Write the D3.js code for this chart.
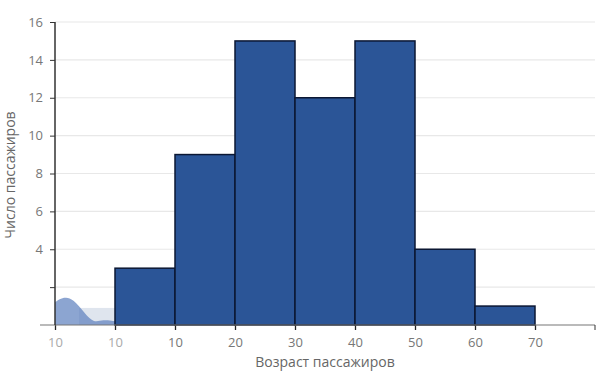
<!DOCTYPE html>
<html>
<head>
<meta charset="utf-8">
<script src="https://cdn.jsdelivr.net/npm/d3@7"></script>
<style>
  body { margin: 0; background: #fff; }
  text { font-family: "Open Sans", "Liberation Sans", sans-serif; }
</style>
</head>
<body>
<svg id="hist" width="600" height="375"></svg>
<script>
// bin edges and counts
var binStarts = [0, 10, 20, 30, 40, 50, 60];
var binCounts = [3, 9, 15, 12, 15, 4, 1];
var xTickValues = [-10, 0, 10, 20, 30, 40, 50, 60, 70];
var xTickLabels = ["10", "10", "10", "20", "30", "40", "50", "60", "70"];
var yTickValues = [2, 4, 6, 8, 10, 12, 14, 16];
var yTickLabels = ["", "4", "6", "8", "10", "12", "14", "16"];

var svg = d3.select("#hist"),
    x = d3.scaleLinear().domain([-10, 80]).range([55, 595]),
    y = d3.scaleLinear().domain([0, 16]).range([325, 22]);

var binWidth = 10;

// gridlines
svg.append("g")
    .selectAll("line")
    .data(yTickValues)
    .enter().append("line")
    .attr("x1", x(-10)).attr("x2", x(80))
    .attr("y1", function(d) { return y(d); })
    .attr("y2", function(d) { return y(d); })
    .attr("stroke", "#e8e8e8")
    .attr("stroke-width", 1.2);

// faint blob over the first bin
svg.append("rect")
    .attr("x", x(-6)).attr("y", y(0.9))
    .attr("width", x(0) - x(-6)).attr("height", y(0) - y(0.9))
    .attr("fill", "#c9d3e3").attr("opacity", 0.6);
svg.append("path")
    .attr("d", d3.area()
        .x(function(d) { return x(d[0]); })
        .y0(y(0))
        .y1(function(d) { return y(d[1]); })
        .curve(d3.curveBasis)([[-10, 1.2], [-8.5, 1.5], [-7, 1.4], [-5, 0.6], [-3.5, 0.1], [-2, 0.3], [0, 0.2]]))
    .attr("fill", "#5b7fbd")
    .attr("opacity", 0.7);

// bars
svg.append("g")
    .selectAll("rect")
    .data(binStarts)
    .enter().append("rect")
    .attr("x", function(d) { return x(d); })
    .attr("y", function(d, i) { return y(binCounts[i]); })
    .attr("width", function(d) { return x(d + binWidth) - x(d); })
    .attr("height", function(d, i) { return y(0) - y(binCounts[i]); })
    .attr("fill", "#2b5597")
    .attr("stroke", "#0b1733")
    .attr("stroke-width", 1.5);

// x axis
var xAxis = d3.axisBottom(x)
    .tickValues(xTickValues)
    .tickSize(5)
    .tickFormat(function(d, i) { return xTickLabels[i]; });

var xg = svg.append("g")
    .attr("transform", "translate(0," + y(0) + ")")
    .call(xAxis);
xg.select(".domain").remove();
xg.append("line")
    .attr("x1", 40).attr("x2", x(80))
    .attr("stroke", "#777").attr("stroke-width", 1.2);
xg.append("line")
    .attr("x1", x(80)).attr("x2", x(80)).attr("y2", 5)
    .attr("stroke", "#333");
xg.selectAll(".tick line").attr("stroke", "#222").attr("stroke-width", 1.3);
xg.selectAll(".tick text")
    .attr("dy", "1.05em")
    .attr("font-size", 13)
    .attr("fill", function(d, i) { return i < 2 ? "#aaa" : "#777"; });

// y axis
var yAxis = d3.axisLeft(y)
    .tickValues(yTickValues)
    .tickSize(5)
    .tickFormat(function(d, i) { return yTickLabels[i]; });

var yg = svg.append("g")
    .attr("transform", "translate(" + x(-10) + ",0)")
    .call(yAxis);
yg.select(".domain").attr("d", "M0," + y(16) + "V" + y(0))
    .attr("stroke", "#333").attr("stroke-width", 1.5);
yg.selectAll(".tick line").attr("stroke", "#333");
yg.selectAll(".tick text")
    .attr("x", -12)
    .attr("font-size", 13)
    .attr("fill", "#777");

// titles
svg.append("text")
    .attr("x", 325).attr("y", 367)
    .attr("text-anchor", "middle")
    .attr("font-size", 14)
    .attr("fill", "#666")
    .text("Возраст пассажиров");

svg.append("text")
    .attr("transform", "translate(15,175) rotate(-90)")
    .attr("text-anchor", "middle")
    .attr("font-size", 14)
    .attr("fill", "#666")
    .text("Число пассажиров");
</script>
</body>
</html>
